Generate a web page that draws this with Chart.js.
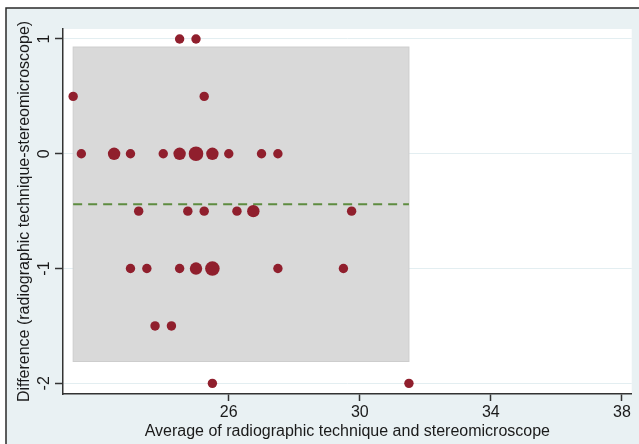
<!DOCTYPE html>
<html>
<head>
<meta charset="utf-8">
<script src="https://cdn.jsdelivr.net/npm/chart.js@4.4.1/dist/chart.umd.min.js"></script>
<style>
  body { margin: 0; background: #fff; }
  canvas { display: block; }
</style>
</head>
<body>
<canvas id="bland" width="639" height="444"></canvas>
<script>
// Bland-Altman data: average of both methods, difference, number of coinciding teeth
const avgX = [24.5, 25, 21.25, 25.25,
  21.5, 22.5, 23, 24, 24.5, 25, 25.5, 26, 27, 27.5,
  23.25, 24.75, 25.25, 26.25, 26.75, 29.75,
  23, 23.5, 24.5, 25, 25.5, 27.5, 29.5,
  23.75, 24.25,
  25.5, 31.5];
const diffY = [1, 1, 0.5, 0.5,
  0, 0, 0, 0, 0, 0, 0, 0, 0, 0,
  -0.5, -0.5, -0.5, -0.5, -0.5, -0.5,
  -1, -1, -1, -1, -1, -1, -1,
  -1.5, -1.5,
  -2, -2];
const counts = [1, 1, 1, 1,
  1, 2, 1, 1, 2, 3, 2, 1, 1, 1,
  1, 1, 1, 1, 2, 1,
  1, 1, 1, 2, 3, 1, 1,
  1, 1,
  1, 1];

const meanDiff = -0.44;
const upperLoA = 0.93;
const lowerLoA = -1.81;
const avgRange = [21.25, 31.5];

const xTicks = [26, 30, 34, 38];
const yTicks = [-2, -1, 0, 1];

const FONT = "'Liberation Sans', Arial, sans-serif";

// Hintergrund + Rahmen
const framePlugin = {
    id: 'frame',
    beforeDraw(chart) {
        const c = chart.ctx;
        c.save();
        c.fillStyle = '#ffffff';
        c.fillRect(0, 0, chart.width, chart.height);
        c.fillStyle = '#e9f1f3';
        c.fillRect(6, 8, chart.width - 6, chart.height - 8);
        const a = chart.chartArea;
        c.fillStyle = '#ffffff';
        c.fillRect(a.left, a.top, a.right - a.left, a.bottom - a.top);
        c.strokeStyle = '#2a2a2a';
        c.lineWidth = 1.5;
        c.beginPath();
        c.moveTo(6, chart.height);
        c.lineTo(6, 8);
        c.lineTo(chart.width, 8);
        c.stroke();
        c.restore();
    }
};

// graue Fläche zwischen den Übereinstimmungsgrenzen
const loaPlugin = {
    id: 'loaBox',
    beforeDatasetsDraw(chart) {
        const x = chart.scales.x, y = chart.scales.y;
        const x0 = x.getPixelForValue(avgRange[0]);
        const x1 = x.getPixelForValue(avgRange[1]);
        const y0 = y.getPixelForValue(upperLoA);
        const y1 = y.getPixelForValue(lowerLoA);
        const c = chart.ctx;
        c.save();
        c.fillStyle = '#d9d9d9';
        c.fillRect(x0, y0, x1 - x0, y1 - y0);
        c.strokeStyle = '#cdcdcd';
        c.lineWidth = 1;
        c.strokeRect(x0, y0, x1 - x0, y1 - y0);
        c.restore();
    }
};

const points = avgX.map((v, i) => ({ x: v, y: diffY[i] }));

new Chart(document.getElementById('bland').getContext('2d'), {
    type: 'scatter',
    data: {
        datasets: [{
            type: 'line',
            data: [{ x: avgRange[0], y: meanDiff }, { x: avgRange[1], y: meanDiff }],
            borderColor: '#5e8c40',
            borderWidth: 2,
            borderDash: [9, 6],
            pointRadius: 0,
            order: 2
        }, {
            data: points,
            backgroundColor: '#901f2d',
            borderWidth: 0,
            pointRadius: ctx => 4.7 * Math.pow(counts[ctx.dataIndex] || 1, 0.4),
            order: 1
        }]
    },
    options: {
        responsive: false,
        animation: false,
        layout: { padding: { left: 0, right: 6, top: 29, bottom: 0 } },
        plugins: {
            legend: { display: false },
            tooltip: { enabled: false }
        },
        scales: {
            x: {
                type: 'linear',
                min: 20.94,
                max: 38.3,
                afterBuildTicks: s => { s.ticks = xTicks.map(v => ({ value: v })); },
                afterFit: s => { s.height = 50; },
                border: { color: '#333', width: 1.5 },
                grid: { drawOnChartArea: false, tickLength: 7, tickColor: '#333', tickWidth: 1.5 },
                ticks: { color: '#1a1a1a', padding: 2, font: { family: FONT, size: 16 }, maxRotation: 0 },
                title: {
                    display: true,
                    text: 'Average of radiographic technique and stereomicroscope',
                    color: '#1a1a1a',
                    font: { family: FONT, size: 16 },
                    padding: { top: 0, bottom: 3 }
                }
            },
            y: {
                type: 'linear',
                min: -2.093,
                max: 1.087,
                afterBuildTicks: s => { s.ticks = yTicks.map(v => ({ value: v })); },
                afterFit: s => { s.width = 63; },
                border: { color: '#333', width: 1.5 },
                grid: { color: '#e3eef1', lineWidth: 1, tickLength: 8, tickColor: '#333', tickWidth: 1.5 },
                ticks: { color: '#1a1a1a', padding: 3, crossAlign: 'center', minRotation: 90, maxRotation: 90, font: { family: FONT, size: 16 } },
                title: {
                    display: true,
                    text: 'Difference (radiographic technique-stereomicroscope)',
                    color: '#1a1a1a',
                    font: { family: FONT, size: 16 },
                    padding: { top: 15, bottom: 0 }
                }
            }
        }
    },
    plugins: [framePlugin, loaPlugin]
});
</script>
</body>
</html>
